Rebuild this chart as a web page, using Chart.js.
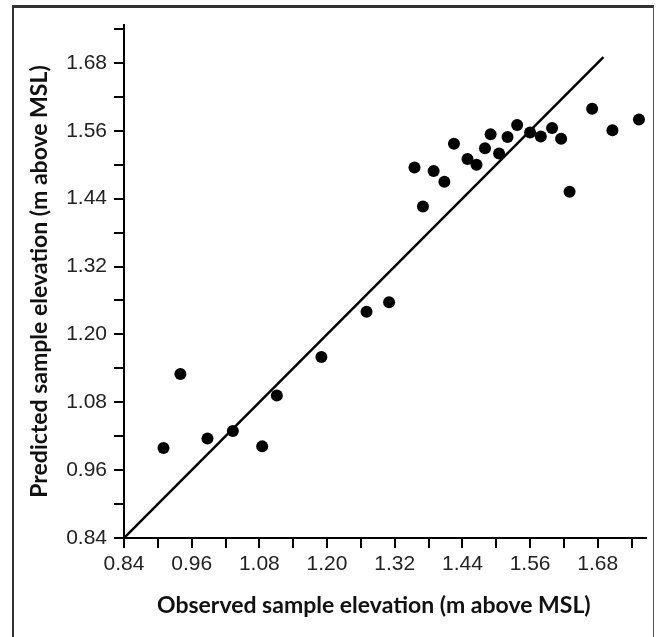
<!DOCTYPE html>
<html>
<head>
<meta charset="utf-8">
<script src="https://cdn.jsdelivr.net/npm/chart.js@4.4.1/dist/chart.umd.min.js"></script>
<style>
    html, body { margin: 0; padding: 0; background: #fff; overflow: hidden; }
    #wrap { position: absolute; left: 0; top: 0; width: 657px; height: 637px; }
    #frame {
        position: absolute; left: 12px; top: 5px; width: 642px; height: 700px;
        border-left: 2px solid #333; border-top: 3px solid #333; border-right: 1.5px solid #555;
        box-sizing: border-box; pointer-events: none;
    }
</style>
</head>
<body>
<div id="wrap">
    <canvas id="myChart" width="657" height="637"></canvas>
    <div id="frame"></div>
</div>
<script>
// observed vs predicted sample elevation (m above MSL)
const observed = [0.910, 0.940, 0.988, 1.033, 1.085, 1.111, 1.190, 1.270, 1.310,
    1.355, 1.370, 1.389, 1.408, 1.425, 1.449, 1.465, 1.480, 1.490, 1.505, 1.520,
    1.537, 1.560, 1.579, 1.599, 1.615, 1.630, 1.670, 1.706, 1.753];
const predicted = [0.999, 1.130, 1.016, 1.029, 1.002, 1.092, 1.160, 1.240, 1.257,
    1.495, 1.426, 1.489, 1.470, 1.537, 1.510, 1.500, 1.529, 1.554, 1.520, 1.549,
    1.570, 1.557, 1.550, 1.565, 1.546, 1.452, 1.599, 1.561, 1.580];

// 1:1 line
const lineX = [0.84, 1.69];

const tickValues = [0.84, 0.90, 0.96, 1.02, 1.08, 1.14, 1.20, 1.26, 1.32, 1.38, 1.44, 1.50, 1.56, 1.62, 1.68, 1.74];
const tickLabels = ['0.84', '0.96', '1.08', '1.20', '1.32', '1.44', '1.56', '1.68'];

// trailing spaces nudge the centred title a little to the left, as in the original
const xTitle = 'Observed sample elevation (m above MSL)\u00a0\u00a0\u00a0\u00a0';
const yTitle = 'Predicted sample elevation (m above MSL)';

let points = observed.map(function(x, i){
    return {x: x, y: predicted[i]};
});
let linePoints = lineX.map(function(v){
    return {x: v, y: v};
});

function setTicks(scale){
    scale.ticks = tickValues
        .filter(function(v){ return v <= scale.max + 1e-9; })
        .map(function(v){ return {value: v}; });
}

function tickLabel(value){
    let s = value.toFixed(2);
    return tickLabels.indexOf(s) >= 0 ? s : '';
}

let titleFont = {family: 'Lato, "Open Sans", sans-serif', size: 23, weight: 'bold'};

let ctx = document.getElementById('myChart');
new Chart(ctx, {
    type: 'scatter',
    data: {
        datasets: [{
            type: 'line',
            data: linePoints,
            borderColor: '#000',
            borderWidth: 2.5,
            pointRadius: 0,
            fill: false,
            order: 2
        }, {
            data: points,
            backgroundColor: '#000',
            borderWidth: 0,
            pointRadius: 6,
            pointHoverRadius: 6,
            order: 1
        }]
    },
    options: {
        responsive: false,
        animation: false,
        events: [],
        layout: {
            padding: {left: 0, top: 25, right: 11, bottom: 0}
        },
        plugins: {
            legend: {display: false},
            tooltip: {enabled: false}
        },
        scales: {
            x: {
                type: 'linear',
                min: 0.84,
                max: 1.7655,
                afterBuildTicks: setTicks,
                afterFit: function(scale){ scale.height = 99; },
                grid: {
                    drawOnChartArea: false,
                    drawTicks: true,
                    tickLength: 10,
                    color: '#000',
                    lineWidth: 2
                },
                border: {display: true, color: '#000', width: 2},
                ticks: {
                    autoSkip: false,
                    maxRotation: 0,
                    padding: 4,
                    color: '#222',
                    font: {family: 'Liberation Sans', size: 21},
                    callback: tickLabel
                },
                title: {
                    display: true,
                    text: xTitle,
                    color: '#111',
                    font: titleFont,
                    padding: {top: 0, bottom: 18}
                }
            },
            y: {
                type: 'linear',
                min: 0.84,
                max: 1.747,
                afterBuildTicks: setTicks,
                afterFit: function(scale){ scale.width = 124; },
                grid: {
                    drawOnChartArea: false,
                    drawTicks: true,
                    tickLength: 10,
                    color: '#000',
                    lineWidth: 2
                },
                border: {display: true, color: '#000', width: 2},
                ticks: {
                    autoSkip: false,
                    padding: 7,
                    color: '#222',
                    font: {family: 'Liberation Sans', size: 21},
                    callback: tickLabel
                },
                title: {
                    display: true,
                    text: yTitle,
                    color: '#111',
                    font: titleFont,
                    padding: {top: 26, bottom: 0}
                }
            }
        }
    }
});
</script>
</body>
</html>
